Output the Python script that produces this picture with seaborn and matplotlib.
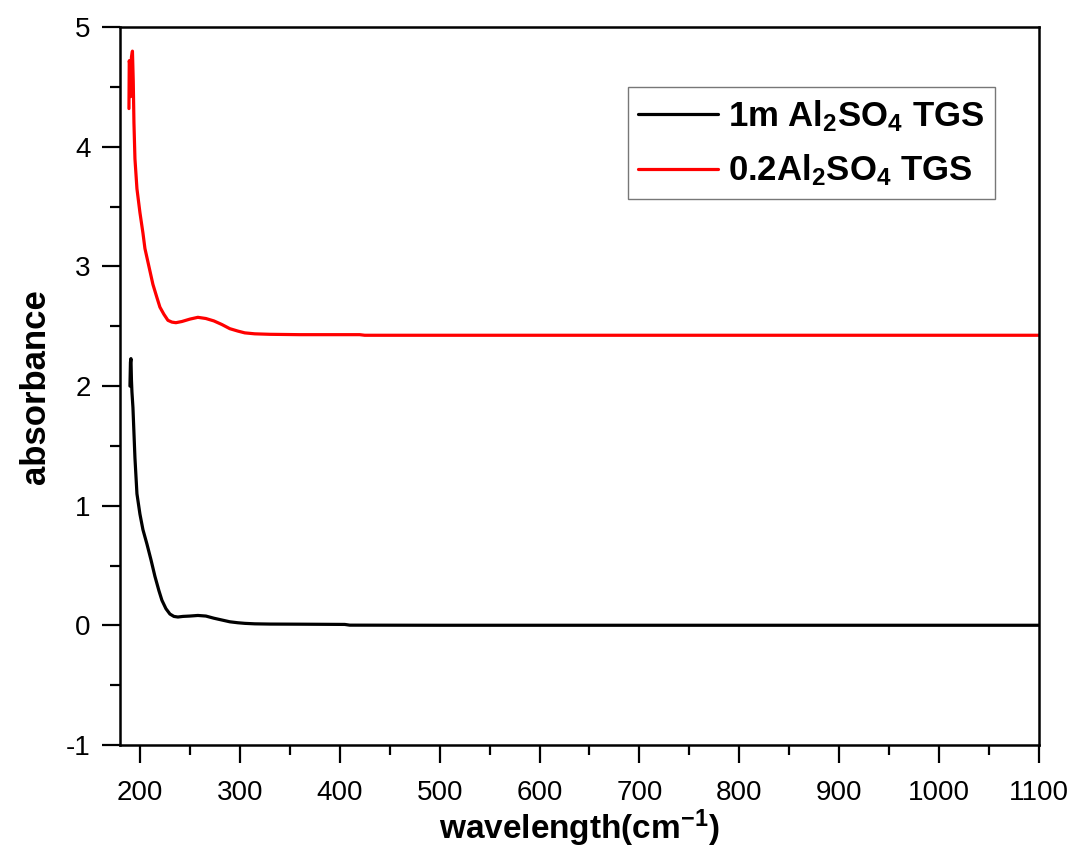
import matplotlib
matplotlib.use("Agg")
import matplotlib.pyplot as plt
import seaborn as sns
import pandas as pd
from matplotlib.ticker import MultipleLocator

# ---- data ----
black_x = [190, 190.5, 191, 191.5, 192, 193, 195, 197, 200, 203, 207, 211, 215,
           219, 222, 226, 230, 234, 238, 243, 250, 258, 266, 274, 282, 290, 298,
           305, 315, 330, 360, 405, 410, 500, 700, 900, 1100]
black_y = [2.0, 2.2, 2.23, 2.05, 1.95, 1.82, 1.4, 1.1, 0.93, 0.8, 0.68, 0.55, 0.41,
           0.29, 0.21, 0.14, 0.095, 0.075, 0.07, 0.075, 0.078, 0.083, 0.078, 0.06,
           0.045, 0.03, 0.022, 0.017, 0.013, 0.011, 0.01, 0.008, 0.002, 0.001,
           0.001, 0.001, 0.001]

red_x = [189, 189.3, 190, 190.7, 191.5, 192.5, 193.3, 194, 195, 197, 200, 203, 205,
         209, 213, 217, 220, 224, 228, 232, 236, 242, 250, 258, 266, 274, 282, 290,
         298, 305, 315, 330, 360, 420, 425, 600, 800, 1100]
red_y = [4.32, 4.72, 4.68, 4.42, 4.75, 4.8, 4.55, 4.2, 3.9, 3.65, 3.45, 3.28, 3.15,
         3.0, 2.85, 2.74, 2.66, 2.6, 2.55, 2.535, 2.53, 2.54, 2.56, 2.575, 2.565,
         2.545, 2.515, 2.48, 2.46, 2.445, 2.437, 2.433, 2.43, 2.43, 2.425, 2.425,
         2.425, 2.425]

labels = ["1m Al$_2$SO$_4$ TGS", "0.2Al$_2$SO$_4$ TGS"]
colors = ["#000000", "#ff0000"]

xticks = [200, 300, 400, 500, 600, 700, 800, 900, 1000, 1100]
yticks = [-1, 0, 1, 2, 3, 4, 5]

df = pd.concat([
    pd.DataFrame({"x": black_x, "y": black_y, "series": labels[0]}),
    pd.DataFrame({"x": red_x, "y": red_y, "series": labels[1]}),
], ignore_index=True)

sns.set_style("ticks")
plt.rcParams["font.family"] = ["Liberation Sans", "DejaVu Sans"]
plt.rcParams["mathtext.fontset"] = "custom"
plt.rcParams["mathtext.rm"] = "Liberation Sans:bold"
plt.rcParams["mathtext.bf"] = "Liberation Sans:bold"
plt.rcParams["mathtext.it"] = "Liberation Sans:bold"
plt.rcParams["mathtext.default"] = "bf"
for k in ["text.color", "axes.labelcolor", "xtick.color", "ytick.color",
          "xtick.labelcolor", "ytick.labelcolor"]:
    plt.rcParams[k] = "black"

fig = plt.figure(figsize=(10.73, 8.5), dpi=100)
ax = fig.add_axes([0.1118, 0.1235, 0.8565, 0.8445])

sns.lineplot(data=df, x="x", y="y", hue="series", palette=dict(zip(labels, colors)),
             hue_order=labels, sort=False, estimator=None, units="series",
             linewidth=2.3, ax=ax)

ax.set_xlim(180, 1100)
ax.set_ylim(-1, 5)
ax.set_xticks(xticks)
ax.set_yticks(yticks)
ax.set_xticklabels([str(t) for t in xticks])
ax.set_yticklabels([str(t) for t in yticks])
ax.xaxis.set_minor_locator(MultipleLocator(50))
ax.yaxis.set_minor_locator(MultipleLocator(0.5))
ax.tick_params(which="major", direction="out", length=13, width=1.6, labelsize=20,
               top=False, right=False, pad=8, colors="black")
ax.tick_params(axis="x", which="major", pad=12)
ax.tick_params(which="minor", direction="out", length=7, width=1.6,
               top=False, right=False, colors="black")
for s in ax.spines.values():
    s.set_visible(True)
    s.set_linewidth(1.8)
    s.set_color("black")

ax.set_xlabel("wavelength(cm$^{-1}$)", fontsize=24, fontweight="bold", labelpad=1)
ax.set_ylabel("absorbance", fontsize=25, fontweight="bold", labelpad=10)

leg = ax.legend(loc="upper right", bbox_to_anchor=(0.952, 0.916), borderaxespad=0,
                handlelength=2.3, frameon=True, fancybox=False,
                prop={"weight": "bold", "size": 25}, labelspacing=0.55,
                handletextpad=0.3, borderpad=0.3)
leg.get_frame().set_edgecolor("#555555")
leg.get_frame().set_linewidth(1.0)
for line in leg.get_lines():
    line.set_linewidth(2.3)

fig.savefig("out.png", dpi=100)
